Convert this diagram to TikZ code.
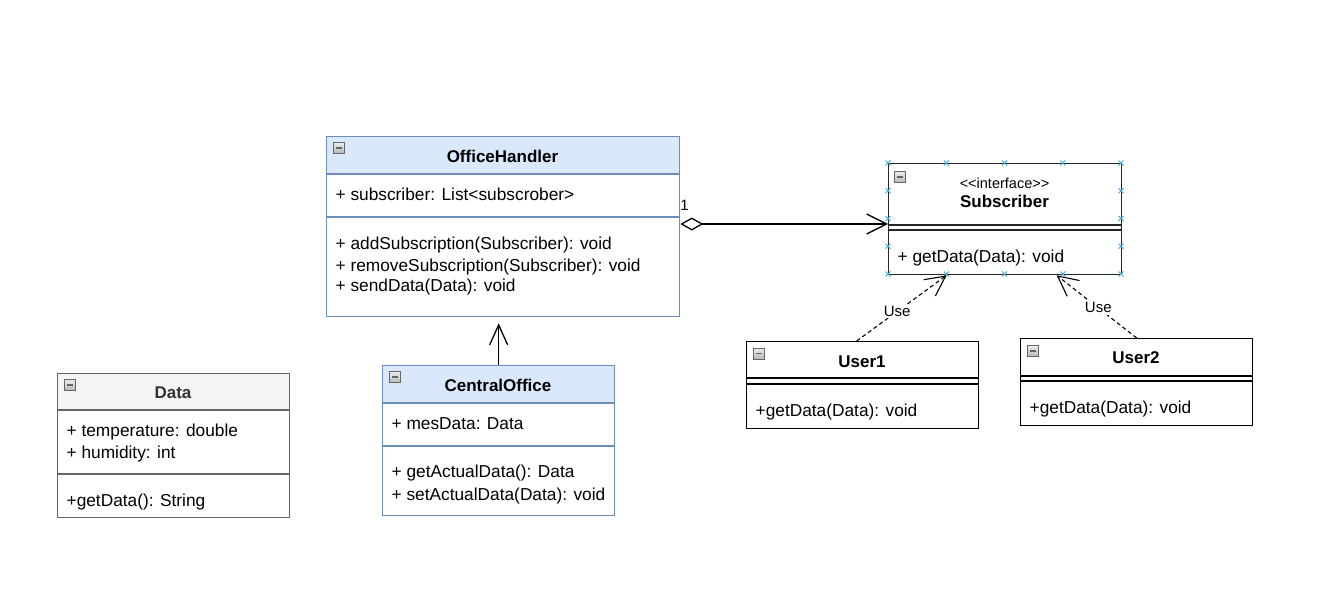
\documentclass[tikz,border=0pt]{standalone}
\usepackage{fontspec}
\setmainfont{Liberation Sans}
\usetikzlibrary{arrows.meta,calc}
\definecolor{bluefill}{HTML}{DAE8FC}
\definecolor{blueline}{HTML}{6C8EBF}
\definecolor{grayfill}{HTML}{F5F5F5}
\definecolor{grayline}{HTML}{666666}
\definecolor{selx}{HTML}{3BA8E0}
\begin{document}
\begin{tikzpicture}[x=1pt,y=-1pt,line width=1.3pt,
  classbox/.style={draw,rectangle,inner sep=0pt,anchor=north west},
  txt/.style={inner sep=0pt,anchor=west,text height=16pt,text depth=3pt,font=\fontsize{17.3}{20}\selectfont},
  ttl/.style={inner sep=0pt,text height=16pt,text depth=3pt,font=\bfseries\fontsize{17}{20}\selectfont},
  small/.style={inner sep=0pt,text height=13pt,text depth=3pt,font=\fontsize{14.5}{17}\selectfont},
  minicon/.style={draw=gray!80!black,line width=0.8pt,minimum size=11pt,inner sep=0pt,
    top color=gray!15,bottom color=gray!55,
    path picture={\draw[line width=1.3pt] ([xshift=-3pt]path picture bounding box.center) -- ([xshift=3pt]path picture bounding box.center);}},
  agg/.style={arrows={Diamond[open,length=23pt,width=13pt]-Straight Barb[length=20pt,width=20pt]}},
  assoc/.style={-{Straight Barb[length=20pt,width=18pt]}},
  useline/.style={dash pattern=on 4pt off 3pt,line width=1.1pt,-{Straight Barb[length=20pt,width=20pt]}},
  uselbl/.style={fill=white,inner sep=1.5pt,font=\fontsize{15}{18}\selectfont},
  selmark/.style={draw=selx,line width=0.8pt}
]
\useasboundingbox (0,0) rectangle (1335,591);

% ---------- OfficeHandler ----------
\fill[bluefill] (326,136) rectangle (679,174);
\node[classbox,draw=blueline,minimum width=353pt,minimum height=180pt] (oh) at (326,136) {};
\draw[blueline] (326,174) -- (679,174) (326,217) -- (679,217);
\node[minicon] (ohi) at (339,148) {};
\node[ttl] (oht) at (502.5,156) {OfficeHandler};
\node[txt] (oha1) at (335,194) {+ subscriber: List<subscrober>};
\node[txt] (ohm1) at (335,243) {+ addSubscription(Subscriber): void};
\node[txt] (ohm2) at (335,265) {+ removeSubscription(Subscriber): void};
\node[txt] (ohm3) at (335,285) {+ sendData(Data): void};

% ---------- Subscriber ----------
\node[classbox,draw=black!85,minimum width=233pt,minimum height=111pt] (sub) at (888,163) {};
\draw[black!85] (888,225) -- (1121,225) (888,230) -- (1121,230);
\node[minicon] (subi) at (900,177) {};
\node[small] (subst) at (1004.5,183) {<{}<interface>{}>};
\node[ttl] (subt) at (1004.5,201) {Subscriber};
\node[txt] (subm1) at (897,256) {+ getData(Data): void};
\foreach \xx in {888,946.25,1004.5,1062.75,1121}{
  \draw[selmark] (\xx-2.5,160.5) -- (\xx+2.5,165.5) (\xx-2.5,165.5) -- (\xx+2.5,160.5);
  \draw[selmark] (\xx-2.5,271.5) -- (\xx+2.5,276.5) (\xx-2.5,276.5) -- (\xx+2.5,271.5);
}
\foreach \yy in {190.75,218.5,246.25}{
  \draw[selmark] (885.5,\yy-2.5) -- (890.5,\yy+2.5) (885.5,\yy+2.5) -- (890.5,\yy-2.5);
  \draw[selmark] (1118.5,\yy-2.5) -- (1123.5,\yy+2.5) (1118.5,\yy+2.5) -- (1123.5,\yy-2.5);
}

% ---------- Data ----------
\fill[grayfill] (57,373) rectangle (289,410);
\node[classbox,draw=grayline,minimum width=232pt,minimum height=144pt] (data) at (57,373) {};
\draw[grayline] (57,410) -- (289,410) (57,474) -- (289,474);
\node[minicon] (datai) at (70,385) {};
\node[ttl,text=black!80] (datat) at (173,392) {Data};
\node[txt] (dataa1) at (66,430) {+ temperature: double};
\node[txt] (dataa2) at (66,452) {+ humidity: int};
\node[txt] (datam1) at (66,500) {+getData(): String};

% ---------- CentralOffice ----------
\fill[bluefill] (382,365) rectangle (614,403);
\node[classbox,draw=blueline,minimum width=232pt,minimum height=150pt] (co) at (382,365) {};
\draw[blueline] (382,403) -- (614,403) (382,446) -- (614,446);
\node[minicon] (coi) at (395,377) {};
\node[ttl] (cot) at (498,385) {CentralOffice};
\node[txt] (coa1) at (391,423) {+ mesData: Data};
\node[txt] (com1) at (391,471) {+ getActualData(): Data};
\node[txt] (com2) at (391,494) {+ setActualData(Data): void};

% ---------- User1 ----------
\node[classbox,minimum width=232pt,minimum height=87pt] (u1) at (746,341) {};
\draw (746,378) -- (978,378) (746,384) -- (978,384);
\node[minicon] (u1i) at (758.5,353.5) {};
\node[ttl] (u1t) at (862,361) {User1};
\node[txt] (u1m1) at (755,410) {+getData(Data): void};

% ---------- User2 ----------
\node[classbox,minimum width=232pt,minimum height=87pt] (u2) at (1020,338) {};
\draw (1020,376) -- (1252,376) (1020,381) -- (1252,381);
\node[minicon] (u2i) at (1032.5,351) {};
\node[ttl] (u2t) at (1136,357) {User2};
\node[txt] (u2m1) at (1029,407) {+getData(Data): void};

% ---------- connectors ----------
\coordinate (aggs) at ([yshift=-88pt]oh.north east);
\draw[agg] (aggs) -- (aggs -| sub.west);
\node[small,font=\fontsize{15}{18}\selectfont] (one) at (684.5,205) {1};

\draw[assoc] (co.north) -- ([yshift=-6pt]co.north |- oh.south);

\draw[useline] ([xshift=-6pt]u1.north) -- node[pos=0.45,uselbl] (use1) {Use} ([xshift=-58.5pt]sub.south);
\draw[useline] (u2.north) -- node[pos=0.48,uselbl] (use2) {Use} ([xshift=51.5pt]sub.south);
\end{tikzpicture}
\end{document}
